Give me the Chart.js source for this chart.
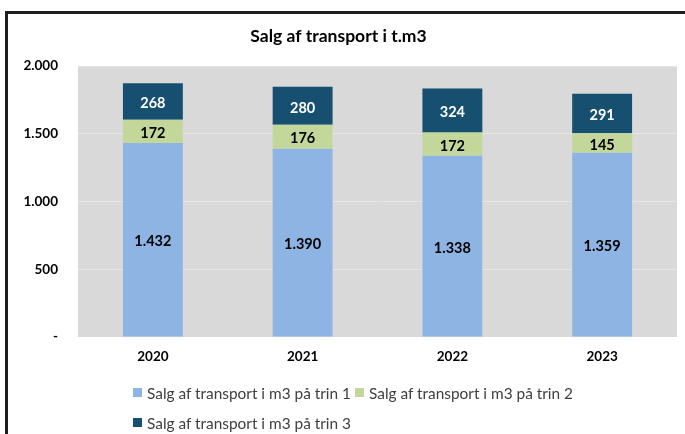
<!DOCTYPE html>
<html>
<head>
<meta charset="utf-8">
<script src="https://cdn.jsdelivr.net/npm/chart.js@4"></script>
<style>
  html, body { margin: 0; padding: 0; background: #fff; overflow: hidden; }
  #wrap { position: relative; width: 685px; height: 434px; }
  #frame { position: absolute; left: 5px; top: 11px; width: 800px; height: 600px;
           border: 3px solid #1e1e1e; box-sizing: border-box; }
  #chart { position: absolute; left: 0; top: 0; }
  #legend { position: absolute; left: 133px; top: 382px; width: 540px;
            font-family: Lato, "Open Sans", sans-serif; font-size: 15.4px; color: #404040; }
  .item { display: inline-flex; align-items: center; height: 19px; margin-right: 4px; margin-bottom: 10px; white-space: nowrap; }
  .box { width: 9px; height: 9px; margin-right: 5px; display: inline-block; }
</style>
</head>
<body>
<div id="wrap">
  <div id="frame"></div>
  <canvas id="chart" width="685" height="434"></canvas>
  <div id="legend"></div>
</div>
<script>
// data
years = ["2020", "2021", "2022", "2023"];
trin1 = [1432, 1390, 1338, 1359];
trin2 = [172, 176, 172, 145];
trin3 = [268, 280, 324, 291];
yTicks = [0, 500, 1000, 1500, 2000];

let seriesNames = ["Salg af transport i m3 på trin 1", "Salg af transport i m3 på trin 2", "Salg af transport i m3 på trin 3"];
let colors = ["#8EB4E3", "#C4D79B", "#164F6F"];
let labelColors = ["#000000", "#000000", "#ffffff"];

function fmt(v) {
    if (v === 0) return "-";
    return String(v).replace(/\B(?=(\d{3})+(?!\d))/g, ".");
}

// gray plot background
const plotBg = {
    id: "plotBg",
    beforeDraw(chart) {
        const a = chart.chartArea, ctx = chart.ctx;
        ctx.save();
        ctx.fillStyle = "#D9D9D9";
        ctx.fillRect(a.left, a.top, a.right - a.left, a.bottom - a.top);
        ctx.restore();
    }
};

// values inside the segments
const valueLabels = {
    id: "valueLabels",
    afterDatasetsDraw(chart) {
        const ctx = chart.ctx;
        ctx.save();
        ctx.font = "bold 14.5px Lato, 'Open Sans', sans-serif";
        ctx.textAlign = "center";
        ctx.textBaseline = "middle";
        chart.data.datasets.forEach((ds, i) => {
            chart.getDatasetMeta(i).data.forEach((bar, j) => {
                ctx.fillStyle = labelColors[i];
                ctx.fillText(fmt(ds.data[j]), bar.x, (bar.y + bar.base) / 2 + 2);
            });
        });
        ctx.restore();
    }
};

let datasets = [trin1, trin2, trin3].map((d, i) => ({
    label: seriesNames[i],
    data: d,
    backgroundColor: colors[i],
    borderWidth: 0,
    categoryPercentage: 1,
    barPercentage: 0.4
}));

Chart.defaults.font.family = "Lato, 'Open Sans', sans-serif";

new Chart(document.getElementById("chart"), {
    type: "bar",
    data: { labels: years, datasets: datasets },
    options: {
        responsive: false,
        animation: false,
        layout: { padding: { left: 0, right: 8, top: 0, bottom: 52 } },
        plugins: {
            legend: { display: false },
            tooltip: { enabled: false },
            title: {
                display: true,
                text: "Salg af transport i t.m3",
                color: "#000",
                font: { size: 17.5, weight: "bold", lineHeight: 1.2 },
                padding: { top: 26, bottom: 19 }
            }
        },
        scales: {
            x: {
                stacked: true,
                grid: { display: false, drawTicks: false },
                border: { display: false },
                ticks: { color: "#000", font: { size: 13.5, weight: "bold" }, padding: 12 },
                afterFit(s) { s.height = 45; }
            },
            y: {
                stacked: true,
                min: 0,
                max: 2000,
                afterBuildTicks(s) { s.ticks = yTicks.map(v => ({ value: v })); },
                grid: { color: "rgba(255,255,255,0.35)", drawTicks: false },
                border: { display: false },
                ticks: {
                    color: "#000",
                    font: { size: 13.5, weight: "bold" },
                    padding: 20,
                    callback: v => fmt(v)
                },
                afterFit(s) { s.width = 78; }
            }
        }
    },
    plugins: [plotBg, valueLabels]
});

// legend like the reference: left aligned rows
let lg = document.getElementById("legend");
seriesNames.forEach((n, i) => {
    let it = document.createElement("span");
    it.className = "item";
    it.innerHTML = '<span class="box" style="background:' + colors[i] + '"></span>' + n;
    lg.appendChild(it);
    if (i === 1) lg.appendChild(document.createElement("br"));
});
</script>
</body>
</html>
